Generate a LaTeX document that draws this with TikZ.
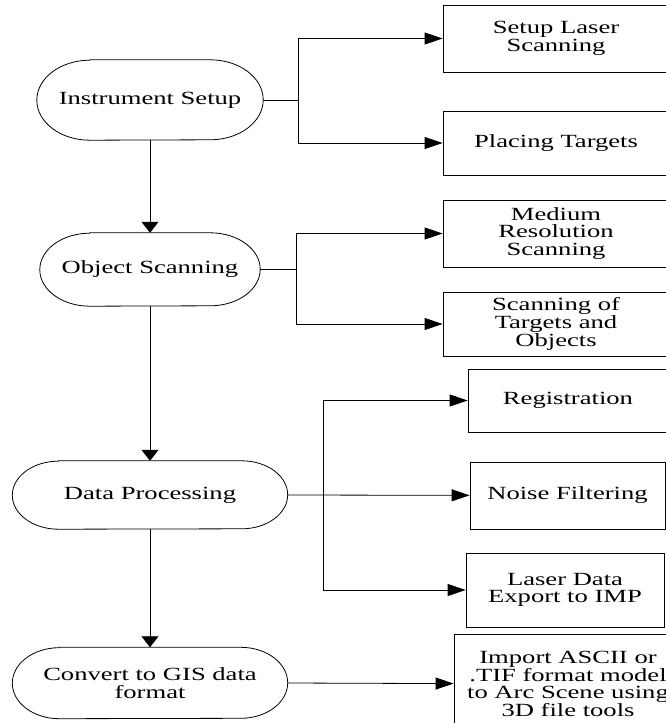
\documentclass[tikz,border=0pt]{standalone}
\usepackage{fontspec}
\setmainfont{Liberation Serif}[FakeStretch=1.43]
\usetikzlibrary{arrows.meta,calc}

% outline of a stage: flat top and bottom with elliptical ends
% #1 node name, #2 horizontal end radius (bp), #3 half height (bp)
\newcommand\stageoutline[3]{%
  \draw[line] ($(#1.north west)+(#2,0)$) -- ($(#1.north east)+(-#2,0)$)
    arc[start angle=90,end angle=-90,x radius=#2bp,y radius=#3bp]
    -- ($(#1.south west)+(#2,0)$)
    arc[start angle=270,end angle=90,x radius=#2bp,y radius=#3bp] -- cycle;}

\begin{document}
\begin{tikzpicture}[x=1bp,y=-1bp,
  line/.style={draw=black,line width=0.8bp},
  txt/.style={font=\fontsize{18.6bp}{17.7bp}\selectfont,align=center,inner sep=0pt},
  stage/.style={txt,rectangle,minimum height=#1},
  taskbox/.style={txt,draw=black,line width=0.8bp,rectangle},
  harr/.style={line,-{Triangle[length=18bp,width=12bp]}},
  varr/.style={line,-{Triangle[length=11bp,width=17bp]}}]
\useasboundingbox (0,0) rectangle (666,723);

% main stages
\node[stage=80bp,minimum width=226bp] (A) at (150,100) {Instrument Setup};
\node[stage=73bp,minimum width=220bp] (B) at (150,269.5) {Object Scanning};
\node[stage=68bp,minimum width=275bp] (C) at (150,495) {Data Processing};
\node[stage=71bp,minimum width=275bp] (D) at (150,683) {Convert to GIS data\\format};
\stageoutline{A}{53}{40}
\stageoutline{B}{50}{36.5}
\stageoutline{C}{46}{34}
\stageoutline{D}{47}{35.5}

% tasks of each stage
\node[taskbox,minimum width=226bp,minimum height=67bp] (S1) at (556,38.5) {Setup Laser\\Scanning};
\node[taskbox,minimum width=226bp,minimum height=64bp] (S2) at (556,143) {Placing Targets};
\node[taskbox,minimum width=226bp,minimum height=67bp] (S3) at (556,233.5) {Medium\\Resolution\\Scanning};
\node[taskbox,minimum width=226bp,minimum height=64bp] (S4) at (556,324) {Scanning of\\Targets and\\Objects};
\node[taskbox,minimum width=200bp,minimum height=63bp] (S5) at (568,400.5) {Registration};
\node[taskbox,minimum width=195bp,minimum height=67bp] (S6) at (567.5,495.5) {Noise Filtering};
\node[taskbox,minimum width=198bp,minimum height=74bp] (S7) at (565,590) {Laser Data\\Export to IMP};
\node[taskbox,minimum width=228bp,minimum height=100bp] (S8) at (568,684) {Import ASCII or\\.TIF format model\\to Arc Scene using\\3D file tools};

% branching points
\coordinate (jA) at (298,100);
\coordinate (jB) at (296,269.5);
\coordinate (jC) at (323,495);

% main flow
\draw[varr] (A) -- (B);
\draw[varr] (B) -- (C);
\draw[varr] (C) -- (D);

% branches
\draw[line] (A.east) -- (jA);
\draw[harr] (jA) |- (S1);
\draw[harr] (jA) |- (S2);
\draw[line] (B.east) -- (jB);
\draw[harr] (jB) |- (S3);
\draw[harr] (jB) |- (S4);
\draw[harr] (C.east) -- (S6);
\draw[harr] (jC) |- (S5);
\draw[harr] (jC) |- (S7);
\draw[harr] (D.east) -- (S8);
\end{tikzpicture}
\end{document}
